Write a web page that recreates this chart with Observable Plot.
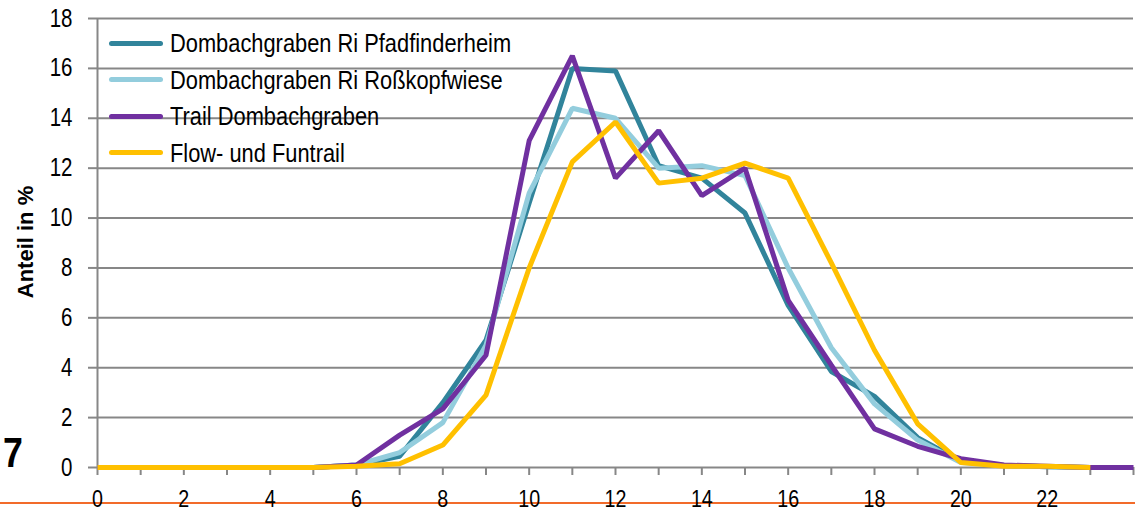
<!DOCTYPE html>
<html><head><meta charset="utf-8">
<script src="https://cdn.jsdelivr.net/npm/d3@7"></script>
<script src="https://cdn.jsdelivr.net/npm/@observablehq/plot@0.6"></script>
<style>
body{margin:0;background:#fff;}
#wrap{position:relative;width:1135px;height:511px;overflow:hidden;font-family:"Liberation Sans",Arial,sans-serif;}
#rule{position:absolute;left:0;top:502px;width:1135px;height:2px;background:#F26B2A;}
#chart{position:absolute;left:0;top:0;}
#chart svg{background:transparent;}
#legend{position:absolute;left:109px;top:25px;}
.row{display:flex;align-items:center;height:36.5px;}
.sw{width:54px;height:5px;border-radius:3px;margin-right:7px;flex:none;}
.lt{font-size:26px;color:#000;white-space:nowrap;line-height:1;transform:scaleX(0.84);transform-origin:left center;}
#ylab{position:absolute;left:26px;top:242px;transform:translate(-50%,-50%) rotate(-90deg);font-weight:bold;font-size:22px;white-space:nowrap;}
#seven{position:absolute;left:3px;top:432px;font-weight:bold;font-size:42px;line-height:1;transform:scaleX(0.85);transform-origin:left top;}
</style></head>
<body><div id="wrap"><div id="rule"></div><div id="chart"></div><div id="legend"></div><div id="ylab">Anteil in %</div><div id="seven">7</div></div>
<script>
const seriesNames = ["Dombachgraben Ri Pfadfinderheim","Dombachgraben Ri Roßkopfwiese","Trail Dombachgraben","Flow- und Funtrail"];
const seriesColors = ["#31849B","#93CDDD","#7030A0","#FFC000"];
const xValues = [0,1,2,3,4,5,6,7,8,9,10,11,12,13,14,15,16,17,18,19,20,21,22,23,24];
const pfadfinderheim = [0,0,0,0,0,0,0.1,0.45,2.6,5.1,10.6,16.0,15.9,12.1,11.6,10.2,6.5,3.85,2.85,1.2,0.25,0.08,0.03,0];
const rosskopfwiese  = [0,0,0,0,0,0,0.1,0.6,1.8,4.9,11.0,14.4,14.0,12.0,12.1,11.7,8.0,4.8,2.55,1.1,0.2,0.08,0.03,0];
const trail          = [0,0,0,0,0,0,0.1,1.3,2.35,4.5,13.1,16.5,11.6,13.5,10.9,12.0,6.7,4.1,1.55,0.85,0.35,0.1,0.05,0,0];
const flowFuntrail   = [0,0,0,0,0,0,0.05,0.15,0.9,2.9,8.0,12.25,13.85,11.4,11.6,12.2,11.6,8.2,4.7,1.75,0.2,0.05,0.05,0];
const yTicks = [0,2,4,6,8,10,12,14,16,18];
const xLabelTicks = [0,2,4,6,8,10,12,14,16,18,20,22];
const xMinorTicks = xValues;

const seriesValues = [pfadfinderheim, rosskopfwiese, trail, flowFuntrail];
const data = [];
seriesValues.forEach((vals, i) => vals.forEach((v, j) => data.push({x: xValues[j], y: v, s: seriesNames[i]})));

const gray = "#878787";
const plot = Plot.plot({
  width: 1135, height: 511,
  marginLeft: 97, marginRight: 2, marginTop: 18, marginBottom: 44,
  style: {fontFamily: '"Liberation Sans",Arial,sans-serif', fontSize: "25px", color: "#000", background: "transparent"},
  x: {domain: [0, 24]},
  y: {domain: [0, 18]},
  color: {domain: seriesNames, range: seriesColors},
  marks: [
    Plot.gridY(yTicks, {stroke: gray, strokeWidth: 2, strokeOpacity: 1}),
    Plot.ruleX([0], {stroke: gray, strokeWidth: 2}),
    Plot.axisY(yTicks, {tickSize: 9, tickPadding: 16, stroke: gray, strokeWidth: 2, fill: "#000", label: null}),
    Plot.axisX(xMinorTicks, {tickSize: 8, stroke: gray, strokeWidth: 2, tickFormat: () => "", label: null}),
    Plot.axisX(xLabelTicks, {tickSize: 0, tickPadding: 22, fill: "#000", fontSize: 24, label: null}),
    Plot.line(data, {x: "x", y: "y", z: "s", stroke: "s", strokeWidth: 5, strokeLinejoin: "miter", strokeLinecap: "butt"})
  ]
});
// condense tick label glyphs horizontally (narrow typeface look)
plot.querySelectorAll('g[aria-label$="tick label"] text').forEach(t => {
  const tr = t.getAttribute("transform");
  if (tr) {
    t.setAttribute("transform", tr + " scale(0.82,1)");
  } else {
    const x = +(t.getAttribute("x") || 0), y = +(t.getAttribute("y") || 0);
    t.removeAttribute("x"); t.removeAttribute("y");
    t.setAttribute("transform", `translate(${x},${y}) scale(0.82,1)`);
  }
});
document.getElementById("chart").appendChild(plot);

const legend = document.getElementById("legend");
seriesNames.forEach((n, i) => {
  const r = document.createElement("div"); r.className = "row";
  const sw = document.createElement("div"); sw.className = "sw"; sw.style.background = seriesColors[i];
  const t = document.createElement("div"); t.className = "lt"; t.textContent = n;
  r.appendChild(sw); r.appendChild(t); legend.appendChild(r);
});
</script>
</body></html>
